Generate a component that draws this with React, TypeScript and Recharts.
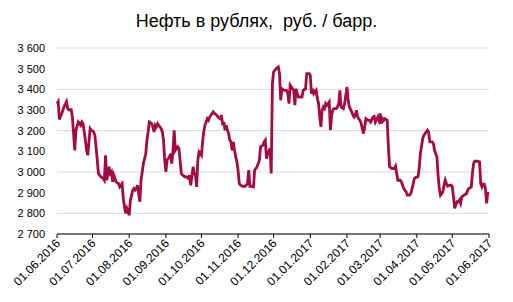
import React from "react";
import { LineChart, Line, XAxis, YAxis, CartesianGrid } from "recharts";

// days since 01.06.2016
const DAYS = [
    0, 1, 2, 4, 6, 8, 9, 10, 12, 13, 15, 16, 18, 20, 21, 22, 24, 25, 26, 28, 29, 31, 32, 33, 35, 37, 39, 40, 41, 42,
    44, 45, 46, 47, 48, 50, 52, 53, 55, 56, 57, 58, 59, 60, 61, 62, 64, 65, 66, 67, 68, 69, 70, 71, 73, 74, 75, 76, 77, 78,
    80, 81, 82, 83, 84, 85, 86, 88, 89, 90, 91, 92, 93, 95, 96, 97, 98, 99, 100, 102, 103, 104, 105, 106, 108, 109, 111, 112, 113, 115,
    116, 117, 118, 119, 120, 122, 123, 124, 125, 127, 128, 129, 131, 132, 133, 135, 136, 138, 139, 140, 141, 142, 143, 144, 145, 146, 147, 148, 149, 150,
    151, 152, 153, 154, 155, 157, 159, 161, 162, 163, 164, 166, 167, 168, 169, 171, 172, 174, 175, 176, 177, 178, 180, 181, 182, 183, 185, 187, 188, 189,
    190, 192, 194, 195, 196, 197, 199, 200, 201, 202, 203, 204, 205, 207, 208, 210, 211, 213, 214, 215, 216, 217, 219, 220, 221, 222, 223, 224, 225, 226,
    227, 228, 230, 231, 232, 233, 234, 236, 237, 238, 239, 240, 242, 243, 245, 246, 247, 249, 250, 251, 252, 253, 254, 256, 257, 258, 259, 260, 261, 263,
    264, 265, 267, 268, 269, 271, 272, 273, 274, 275, 276, 277, 279, 280, 281, 283, 285, 286, 287, 288, 290, 291, 292, 293, 295, 296, 298, 299, 301, 302,
    303, 305, 306, 307, 309, 310, 312, 313, 314, 315, 317, 318, 319, 321, 322, 323, 324, 326, 327, 328, 329, 330, 332, 333, 334, 335, 336, 338, 339, 340,
    341, 342, 344, 346, 347, 348, 350, 351, 352, 353, 355, 357, 358, 359, 360, 361, 362, 363, 364,
];

const PRICES = [
    3330, 3340, 3254, 3283, 3315, 3340, 3307, 3300, 3302, 3266, 3105, 3202, 3242, 3226, 3242, 3234, 3154, 3105, 3081, 3210, 3202, 3194, 3178, 3122, 2993, 2977, 2969, 2960, 3081, 2960,
    3025, 2993, 3001, 2952, 2985, 2952, 2944, 2928, 2944, 2872, 2832, 2800, 2824, 2808, 2791, 2864, 2912, 2920, 2912, 2920, 2936, 2896, 2856, 2960, 3041, 3065, 3089, 3154, 3194, 3242,
    3234, 3218, 3194, 3226, 3218, 3234, 3226, 3210, 3194, 3154, 3057, 3001, 3057, 3073, 3089, 3041, 3105, 3202, 3105, 3122, 3114, 3057, 2993, 2985, 2977, 2977, 2969, 2985, 2936, 3025,
    2993, 2985, 2928, 3057, 3097, 3081, 3146, 3194, 3226, 3258, 3250, 3266, 3283, 3291, 3283, 3275, 3266, 3258, 3275, 3226, 3242, 3202, 3226, 3202, 3186, 3154, 3146, 3105, 3146, 3105,
    3073, 3049, 3009, 2944, 2936, 2931, 2931, 2944, 3009, 2931, 2931, 2928, 3009, 3017, 3025, 3057, 3122, 3130, 3146, 3154, 3065, 3089, 3114, 2993, 3428, 3484, 3500, 3508, 3476, 3347,
    3403, 3395, 3395, 3379, 3331, 3420, 3403, 3395, 3323, 3403, 3379, 3363, 3363, 3363, 3395, 3403, 3476, 3476, 3468, 3379, 3403, 3379, 3395, 3355, 3331, 3266, 3218, 3299, 3315, 3307,
    3331, 3323, 3339, 3202, 3275, 3299, 3307, 3307, 3315, 3331, 3395, 3315, 3307, 3331, 3411, 3347, 3315, 3291, 3275, 3266, 3275, 3299, 3266, 3250, 3234, 3210, 3186, 3218, 3258, 3250,
    3250, 3242, 3266, 3269, 3242, 3266, 3250, 3283, 3234, 3258, 3250, 3258, 3250, 3122, 3025, 3017, 3017, 3028, 2993, 2960, 2960, 2952, 2936, 2920, 2904, 2888, 2888, 2896, 2944, 2969,
    2973, 2977, 3017, 3089, 3162, 3178, 3194, 3202, 3194, 3146, 3146, 3138, 3105, 3073, 2985, 2920, 2888, 2904, 2936, 2960, 2944, 2931, 2936, 2936, 2928, 2880, 2824, 2856, 2856, 2864,
    2848, 2880, 2888, 2896, 2912, 2920, 2928, 2993, 3041, 3052, 3052, 3049, 2944, 2928, 2941, 2941, 2920, 2848, 2904,
];

const MONTH_TICKS = [0, 30, 61, 92, 122, 153, 183, 214, 245, 273, 304, 334, 365];
const MONTH_LABELS = [
    "01.06.2016", "01.07.2016", "01.08.2016", "01.09.2016", "01.10.2016", "01.11.2016", "01.12.2016",
    "01.01.2017", "01.02.2017", "01.03.2017", "01.04.2017", "01.05.2017", "01.06.2017",
];
const Y_TICKS = [2700, 2800, 2900, 3000, 3100, 3200, 3300, 3400, 3500, 3600];

const data = DAYS.map((d, i) => ({ day: d, price: PRICES[i] }));

const FONT = "'Liberation Sans', Arial, sans-serif";

const fmtThousands = (v: number) => `${Math.floor(v / 1000)} ${String(v % 1000).padStart(3, "0")}`;

function DateTick({ x, y, payload }: any) {
    const i = MONTH_TICKS.indexOf(payload.value);
    return (
        <text
            x={x + 4}
            y={y + 2}
            transform={`rotate(-45 ${x + 4} ${y + 2})`}
            textAnchor="end"
            fontSize={12}
            fontFamily={FONT}
            fill="#000"
        >
            {MONTH_LABELS[i]}
        </text>
    );
}

export default function App() {
    return (
        <div style={{ position: "absolute", left: 0, top: 0, width: 513, height: 302, background: "#fff" }}>
            <div
                style={{
                    position: "absolute",
                    top: 11,
                    left: 0,
                    width: 513,
                    textAlign: "center",
                    fontFamily: FONT,
                    fontSize: 18,
                    whiteSpace: "pre",
                    color: "#000",
                }}
            >
                Нефть в рублях,  руб. / барр.
            </div>
            <LineChart width={513} height={302} data={data} margin={{ top: 48, right: 24, left: 0, bottom: 8 }}>
                <CartesianGrid stroke="#d9d9d9" vertical={false} />
                <XAxis
                    dataKey="day"
                    type="number"
                    domain={[0, 365]}
                    ticks={MONTH_TICKS}
                    interval={0}
                    height={60}
                    stroke="#000"
                    tickSize={4}
                    tickMargin={4}
                    tick={<DateTick />}
                />
                <YAxis
                    domain={[2700, 3600]}
                    ticks={Y_TICKS}
                    width={57}
                    axisLine={false}
                    tickLine={false}
                    tickSize={0}
                    tickMargin={12}
                    tick={{ fill: "#000", fontSize: 11, fontFamily: FONT }}
                    tickFormatter={fmtThousands}
                />
                <Line
                    type="linear"
                    dataKey="price"
                    stroke="#a50a45"
                    strokeWidth={2.8}
                    dot={false}
                    isAnimationActive={false}
                />
            </LineChart>
        </div>
    );
}
